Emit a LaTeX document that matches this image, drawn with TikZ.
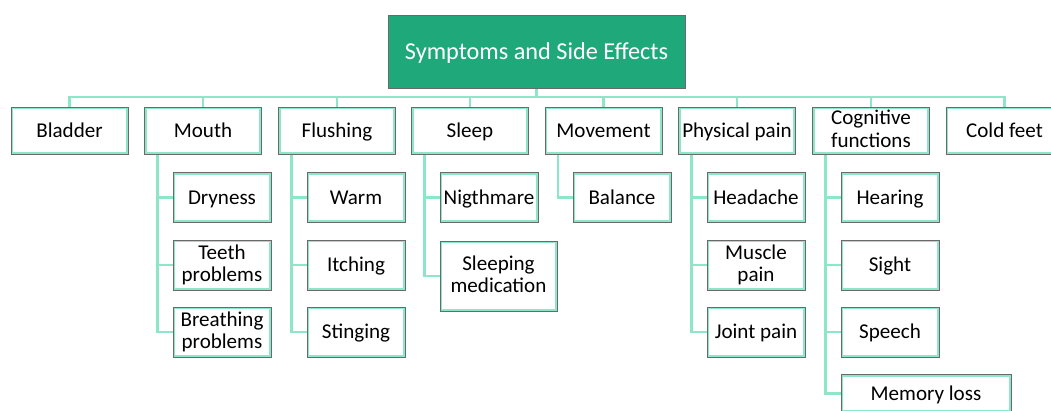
\documentclass[tikz,border=0pt]{standalone}
\usepackage{fontspec}
\setmainfont{Carlito}
\usetikzlibrary{backgrounds}
\definecolor{mint}{HTML}{8CE6C8}
\definecolor{rootgreen}{HTML}{1FA97A}
\definecolor{frame}{HTML}{6A6A6A}
% strut balanced around the capital height, so labels sit visually centred
\newcommand{\capstrut}{\rule[-2.6pt]{0pt}{15.6pt}}
\newcommand{\rootstrut}{\rule[-3pt]{0pt}{18.3pt}}

\begin{document}
\begin{tikzpicture}[x=0.75pt,y=-0.75pt,
  box/.style 2 args={rectangle, inner sep=0pt, outer sep=0pt,
    minimum width=#1*0.75pt, minimum height=#2*0.75pt,
    fill=white, draw=frame, line width=0.6pt, align=center,
    font=\fontsize{15.8}{17}\selectfont,
    execute at begin node=\capstrut, execute at end node=\capstrut,
    path picture={\draw[mint,line width=3.2pt]
      (path picture bounding box.south west) rectangle (path picture bounding box.north east);}},
  rootbox/.style={rectangle, inner sep=0pt, outer sep=0pt,
    minimum width=297*0.75pt, minimum height=73*0.75pt,
    fill=rootgreen, draw=frame, line width=0.7pt, text=white,
    font=\fontsize{18.2}{20}\selectfont,
    execute at begin node=\rootstrut},
  link/.style={draw=mint, line width=2.1pt}]

\useasboundingbox (0,0) rectangle (1051,411);
\clip (0,0) rectangle (1051,411);

% root
\node[rootbox] (root) at (536.5,51.5) {Symptoms and Side Effects};

% first level
\node[box={117}{47}] (bladder)   at (69.5,130.5)  {Bladder};
\node[box={117}{47}] (mouth)     at (203,130.5)   {Mouth};
\node[box={117}{47}] (flushing)  at (337,130.5)   {Flushing};
\node[box={117}{47}] (sleep)     at (470,130.5)   {Sleep};
\node[box={117}{47}] (movement)  at (603.5,130.5) {Movement};
\node[box={117}{47}] (physical)  at (737,130.5)   {Physical pain};
\node[box={117}{47}] (cognitive) at (871,130.5)   {Cognitive\\functions};
\node[box={117}{47}] (coldfeet)  at (1004.5,130.5){Cold feet};

% second level
\node[box={98}{50}] (dry)     at (222,197.5) {Dryness};
\node[box={98}{50}] (teeth)   at (222,265)   {Teeth\\problems};
\node[box={98}{50}] (breath)  at (222,332)   {Breathing\\problems};

\node[box={98}{50}] (warm)    at (356,197.5) {Warm};
\node[box={98}{50}] (itch)    at (356,265)   {Itching};
\node[box={98}{50}] (sting)   at (356,332)   {Stinging};

\node[box={98}{50}] (night)   at (489,197.5) {Nigthmare};
\node[box={117}{70}] (sleepmed) at (498.5,276) {Sleeping\\medication};

\node[box={98}{50}] (balance) at (622,197.5) {Balance};

\node[box={98}{50}] (head)    at (756,197.5) {Headache};
\node[box={98}{50}] (muscle)  at (756,265)   {Muscle\\pain};
\node[box={98}{50}] (joint)   at (756,332)   {Joint pain};

\node[box={98}{50}] (hear)    at (890,197.5) {Hearing};
\node[box={98}{50}] (sight)   at (890,265)   {Sight};
\node[box={98}{50}] (speech)  at (890,332)   {Speech};
\node[box={170}{38}] (memory) at (926,393.5) {Memory loss};

% connectors, drawn behind the boxes
\begin{scope}[on background layer]
\coordinate (bus) at (0,97);
\draw[link] (root.south) -- (root.south |- bus);
\draw[link] (bladder.north) -- (bladder.north |- bus) -| (coldfeet.north);
\foreach \n in {mouth,flushing,sleep,movement,physical,cognitive}
  \draw[link] (\n.north) -- (\n.north |- bus);

\draw[link] ([xshift=9.75pt]mouth.south west) coordinate (mv) |- (breath.west);
\draw[link] (dry.west) -- (dry.west -| mv);
\draw[link] (teeth.west) -- (teeth.west -| mv);

\draw[link] ([xshift=9.75pt]flushing.south west) coordinate (fv) |- (sting.west);
\draw[link] (warm.west) -- (warm.west -| fv);
\draw[link] (itch.west) -- (itch.west -| fv);

\draw[link] ([xshift=9.75pt]sleep.south west) coordinate (sv) |- (sleepmed.west);
\draw[link] (night.west) -- (night.west -| sv);

\draw[link] ([xshift=9.75pt]movement.south west) |- (balance.west);

\draw[link] ([xshift=9.75pt]physical.south west) coordinate (pv) |- (joint.west);
\draw[link] (head.west) -- (head.west -| pv);
\draw[link] (muscle.west) -- (muscle.west -| pv);

\draw[link] ([xshift=9.75pt]cognitive.south west) coordinate (cv) |- (memory.west);
\draw[link] (hear.west) -- (hear.west -| cv);
\draw[link] (sight.west) -- (sight.west -| cv);
\draw[link] (speech.west) -- (speech.west -| cv);
\end{scope}
\end{tikzpicture}
\end{document}
